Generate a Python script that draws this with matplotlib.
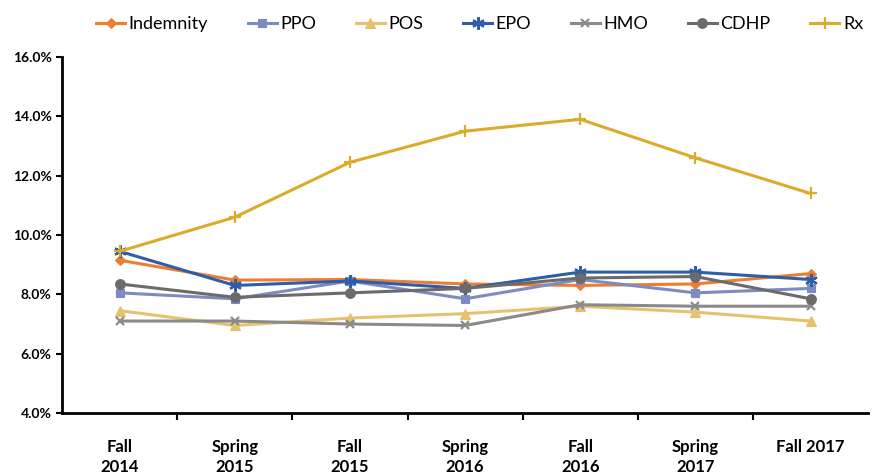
import matplotlib
matplotlib.use("Agg")
import matplotlib.pyplot as plt
from matplotlib.ticker import FuncFormatter, FixedLocator

plt.rcParams['font.family'] = ['Lato', 'DejaVu Sans']

periods = ["Fall\n2014", "Spring\n2015", "Fall\n2015", "Spring\n2016",
           "Fall\n2016", "Spring\n2017", "Fall 2017"]

indemnity = [9.15, 8.48, 8.50, 8.35, 8.30, 8.35, 8.70]
ppo = [8.05, 7.85, 8.45, 7.85, 8.50, 8.05, 8.20]
pos = [7.45, 6.95, 7.20, 7.35, 7.60, 7.40, 7.10]
epo = [9.45, 8.30, 8.45, 8.20, 8.75, 8.75, 8.50]
hmo = [7.10, 7.10, 7.00, 6.95, 7.65, 7.60, 7.60]
cdhp = [8.35, 7.90, 8.05, 8.20, 8.55, 8.60, 7.85]
rx = [9.45, 10.60, 12.45, 13.50, 13.90, 12.60, 11.40]

series = [
    ("Indemnity", indemnity, "#ED7D31", "D", 5),
    ("PPO", ppo, "#7C8CC2", "s", 6),
    ("POS", pos, "#E5C26E", "^", 7),
    ("EPO", epo, "#2F5DA6", (6, 2, 0), 9),
    ("HMO", hmo, "#8A8A8A", "x", 6),
    ("CDHP", cdhp, "#6B6B6B", "o", 7),
    ("Rx", rx, "#D9AC2A", "+", 8),
]

fig = plt.figure(figsize=(8.8, 4.75), dpi=100)
ax = fig.add_axes([0.0705, 0.1305, 0.916, 0.7495])

x = list(range(len(periods)))
for name, vals, color, marker, ms in series:
    ax.plot(x, vals, color=color, lw=2.2, marker=marker, markersize=ms,
            markeredgewidth=1.6 if marker in ("x", "+", (6, 2, 0)) else 0.8,
            markeredgecolor=color, markerfacecolor=color, label=name)

ax.set_xlim(-0.5, 6.5)
ax.set_ylim(4, 16)
ax.set_yticks([4, 6, 8, 10, 12, 14, 16])
ax.yaxis.set_major_formatter(FuncFormatter(lambda v, p: f"{v:.1f}%"))

ax.xaxis.set_major_locator(FixedLocator(x))
ax.set_xticklabels(periods, fontsize=12, fontweight="bold", va="top",
                   linespacing=1.25)
ax.tick_params(axis="x", which="major", length=0, pad=19)
ax.xaxis.set_minor_locator(FixedLocator([i + 0.5 for i in range(6)]))
ax.tick_params(axis="x", which="minor", length=5, width=1.5, direction="out")
ax.tick_params(axis="y", length=4, width=1.5, direction="out", labelsize=10)
for lbl in ax.get_yticklabels():
    lbl.set_fontweight("bold")

for side in ("top", "right"):
    ax.spines[side].set_visible(False)
for side in ("left", "bottom"):
    ax.spines[side].set_linewidth(2)
    ax.spines[side].set_color("black")

fig.legend(loc="upper center", bbox_to_anchor=(0.545, 1.0), ncol=7,
           frameon=False, fontsize=13, handlelength=1.6,
           handletextpad=0.2, columnspacing=2.2)

fig.savefig("out.png", dpi=100)
